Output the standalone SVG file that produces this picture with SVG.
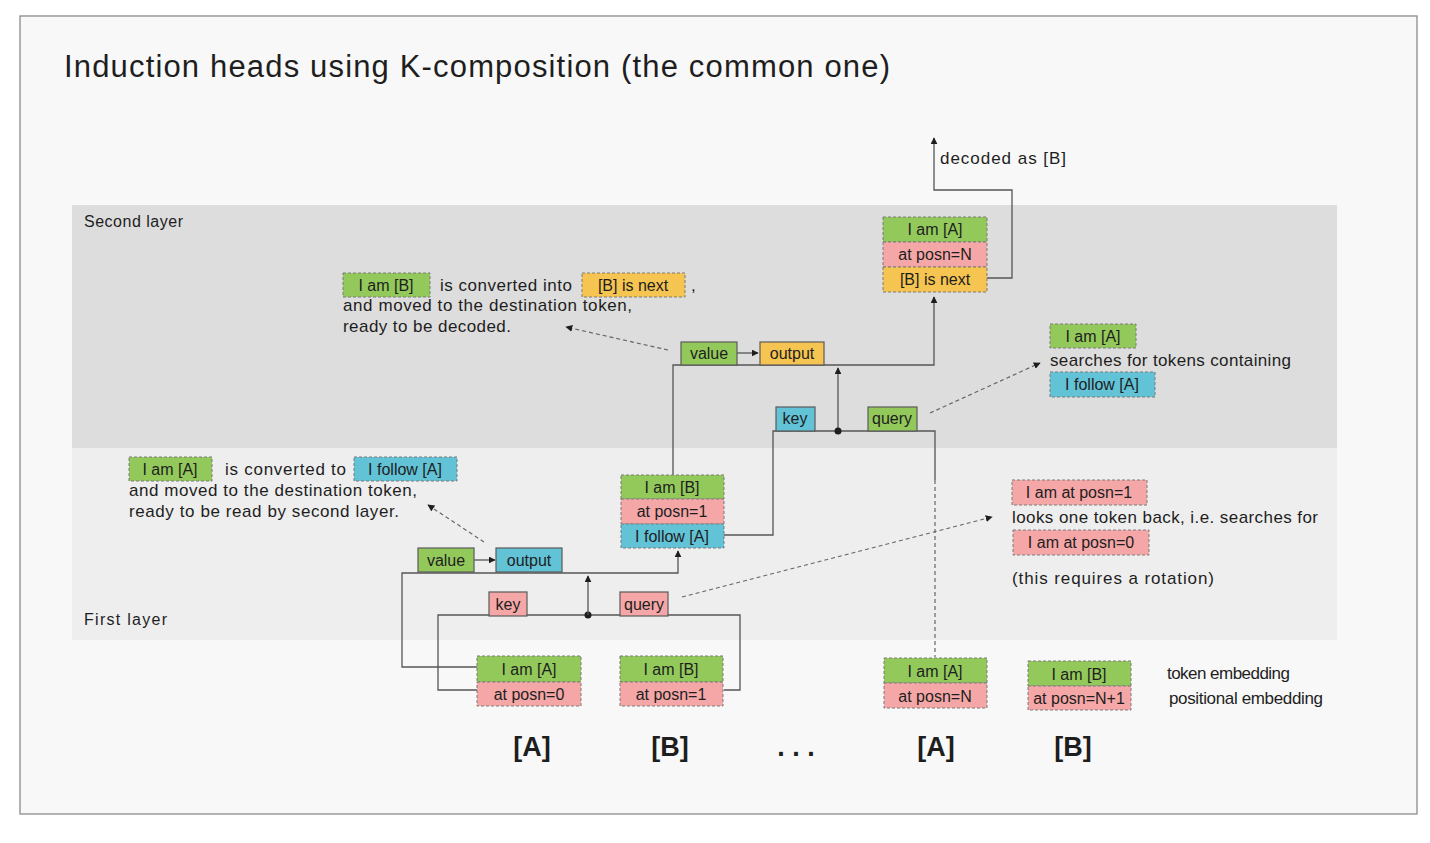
<svg xmlns="http://www.w3.org/2000/svg" width="1430" height="843" viewBox="0 0 1430 843">
<style>
text{font-family:"Liberation Sans","DejaVu Sans",sans-serif;fill:#1e1e1e;}
.t{font-size:17px;}
.c{text-anchor:middle;font-size:16px;}
.lbl{font-size:16px;}
.big{font-size:27px;text-anchor:middle;font-weight:bold;}
.gr{fill:#93c95b;}
.pk{fill:#f5a7a7;}
.ye{fill:#f6c451;}
.cy{fill:#62c2d6;}
.dsh{stroke:#7a7a7a;stroke-width:1;stroke-dasharray:3 2;}
.sol{stroke:#5a5a5a;stroke-width:1.2;}
.conn{fill:none;stroke:#555;stroke-width:1.3;}
.dot{fill:none;stroke:#666;stroke-width:1.2;stroke-dasharray:4 3;}
</style>
<defs>
<marker id="ah" viewBox="0 0 10 10" refX="9" refY="5" markerWidth="7" markerHeight="7" orient="auto-start-reverse" markerUnits="userSpaceOnUse">
<path d="M0,0 L10,5 L0,10 Z" fill="#1e1e1e"/>
</marker>
</defs>
<rect x="0" y="0" width="1430" height="843" fill="#ffffff"/>
<rect id="frame" x="20" y="16" width="1397" height="798" fill="#f8f8f8" stroke="#8a8a8a" stroke-width="1.3"/>
<g id="layer2-band"><rect x="72" y="205" width="1265" height="243" fill="#dddddd"/><text class="lbl" x="84" y="227" textLength="99">Second layer</text></g>
<g id="layer1-band"><rect x="72" y="448" width="1265" height="192" fill="#eeeeee"/><text class="lbl" x="84" y="625" textLength="83">First layer</text></g>
<text id="title" x="64" y="77" font-size="31" textLength="826">Induction heads using K-composition (the common one)</text>

<g id="connectors">
<path class="conn" d="M987,278 H1012 V190 H934 V138" marker-end="url(#ah)"/>
<path class="conn" d="M673,475 V365 H934 V297" marker-end="url(#ah)"/>
<path class="conn" d="M838,431 V368" marker-end="url(#ah)"/>
<path class="conn" d="M724,535 H773 V431 H935 V480"/>
<path class="dot" d="M935,480 V657"/>
<circle cx="838" cy="431" r="3.5" fill="#1e1e1e"/>
<path class="conn" d="M737,353 H758" marker-end="url(#ah)"/>
<path class="conn" d="M477,667 H402 V573 H678 V551" marker-end="url(#ah)"/>
<path class="conn" d="M477,690 H438 V615 H740 V690 H724"/>
<circle cx="588" cy="615" r="3.5" fill="#1e1e1e"/>
<path class="conn" d="M588,615 V576" marker-end="url(#ah)"/>
<path class="conn" d="M474,560 H495" marker-end="url(#ah)"/>
<path class="dot" d="M668,350 L566,327" marker-end="url(#ah)"/>
<path class="dot" d="M930,413 L1040,363" marker-end="url(#ah)"/>
<path class="dot" d="M682,597 L992,517" marker-end="url(#ah)"/>
<path class="dot" d="M484,542 L428,505" marker-end="url(#ah)"/>
</g>

<text id="decoded" class="t" x="940" y="164" textLength="126">decoded as [B]</text>

<g id="out-stack">
<rect class="gr dsh" x="883" y="217" width="104" height="25"/><text class="c" x="935" y="235">I am [A]</text>
<rect class="pk dsh" x="883" y="242" width="104" height="25"/><text class="c" x="935" y="260">at posn=N</text>
<rect class="ye dsh" x="883" y="267" width="104" height="25"/><text class="c" x="935" y="285">[B] is next</text>
</g>

<g id="l2-value"><rect class="gr sol" x="681" y="342" width="56" height="23"/><text class="c" x="709" y="359">value</text></g>
<g id="l2-output"><rect class="ye sol" x="760" y="342" width="64" height="23"/><text class="c" x="792" y="359">output</text></g>
<g id="l2-key"><rect class="cy sol" x="776" y="407" width="39" height="24"/><text class="c" x="795" y="424">key</text></g>
<g id="l2-query"><rect class="gr sol" x="868" y="407" width="49" height="24"/><text class="c" x="892" y="424">query</text></g>

<g id="note-l2-left">
<rect class="gr dsh" x="343" y="273" width="87" height="24"/><text class="c" x="386" y="291">I am [B]</text>
<text class="t" x="440" y="291" textLength="132">is converted into</text>
<rect class="ye dsh" x="582" y="273" width="103" height="24"/><text class="c" x="633" y="291">[B] is next</text>
<text class="t" x="691" y="291">,</text>
<text class="t" x="343" y="311" textLength="289">and moved to the destination token,</text>
<text class="t" x="343" y="332" textLength="168">ready to be decoded.</text>
</g>

<g id="note-l2-right">
<rect class="gr dsh" x="1050" y="324" width="86" height="24"/><text class="c" x="1093" y="342">I am [A]</text>
<text class="t" x="1050" y="366" textLength="241">searches for tokens containing</text>
<rect class="cy dsh" x="1050" y="372" width="105" height="25"/><text class="c" x="1102" y="390">I follow [A]</text>
</g>

<g id="mid-stack">
<rect class="gr dsh" x="621" y="475" width="103" height="24"/><text class="c" x="672" y="493">I am [B]</text>
<rect class="pk dsh" x="621" y="499" width="103" height="25"/><text class="c" x="672" y="517">at posn=1</text>
<rect class="cy dsh" x="621" y="524" width="103" height="24"/><text class="c" x="672" y="542">I follow [A]</text>
</g>

<g id="note-l1-left">
<rect class="gr dsh" x="129" y="457" width="83" height="24"/><text class="c" x="170" y="475">I am [A]</text>
<text class="t" x="225" y="475" textLength="121">is converted to</text>
<rect class="cy dsh" x="354" y="457" width="103" height="24"/><text class="c" x="405" y="475">I follow [A]</text>
<text class="t" x="129" y="496" textLength="288">and moved to the destination token,</text>
<text class="t" x="129" y="517" textLength="270">ready to be read by second layer.</text>
</g>

<g id="note-l1-right">
<rect class="pk dsh" x="1012" y="480" width="135" height="25"/><text class="c" x="1079" y="498">I am at posn=1</text>
<text class="t" x="1012" y="523" textLength="306">looks one token back, i.e. searches for</text>
<rect class="pk dsh" x="1013" y="530" width="136" height="25"/><text class="c" x="1081" y="548">I am at posn=0</text>
<text class="t" x="1012" y="584" textLength="202">(this requires a rotation)</text>
</g>

<g id="l1-value"><rect class="gr sol" x="418" y="548" width="56" height="24"/><text class="c" x="446" y="566">value</text></g>
<g id="l1-output"><rect class="cy sol" x="496" y="548" width="66" height="24"/><text class="c" x="529" y="566">output</text></g>
<g id="l1-key"><rect class="pk sol" x="489" y="592" width="38" height="24"/><text class="c" x="508" y="610">key</text></g>
<g id="l1-query"><rect class="pk sol" x="620" y="592" width="48" height="24"/><text class="c" x="644" y="610">query</text></g>

<g id="tok0">
<rect class="gr dsh" x="477" y="656" width="104" height="26"/><text class="c" x="529" y="675">I am [A]</text>
<rect class="pk dsh" x="477" y="682" width="104" height="24"/><text class="c" x="529" y="700">at posn=0</text>
</g>
<g id="tok1">
<rect class="gr dsh" x="620" y="656" width="103" height="26"/><text class="c" x="671" y="675">I am [B]</text>
<rect class="pk dsh" x="620" y="682" width="103" height="24"/><text class="c" x="671" y="700">at posn=1</text>
</g>
<g id="tokN">
<rect class="gr dsh" x="884" y="658" width="103" height="25"/><text class="c" x="935" y="677">I am [A]</text>
<rect class="pk dsh" x="884" y="683" width="103" height="25"/><text class="c" x="935" y="702">at posn=N</text>
</g>
<g id="tokN1">
<rect class="gr dsh" x="1028" y="661" width="103" height="25"/><text class="c" x="1079" y="680">I am [B]</text>
<rect class="pk dsh" x="1028" y="686" width="103" height="24"/><text class="c" x="1079" y="704">at posn=N+1</text>
</g>
<g id="legend">
<text class="t" x="1167" y="679" textLength="123">token embedding</text>
<text class="t" x="1169" y="704" textLength="154">positional embedding</text>
</g>
<g id="tokens">
<text class="big" x="532" y="756">[A]</text>
<text class="big" x="670" y="756">[B]</text>
<text class="big" x="796" y="756">. . .</text>
<text class="big" x="936" y="756">[A]</text>
<text class="big" x="1073" y="756">[B]</text>
</g>
</svg>
